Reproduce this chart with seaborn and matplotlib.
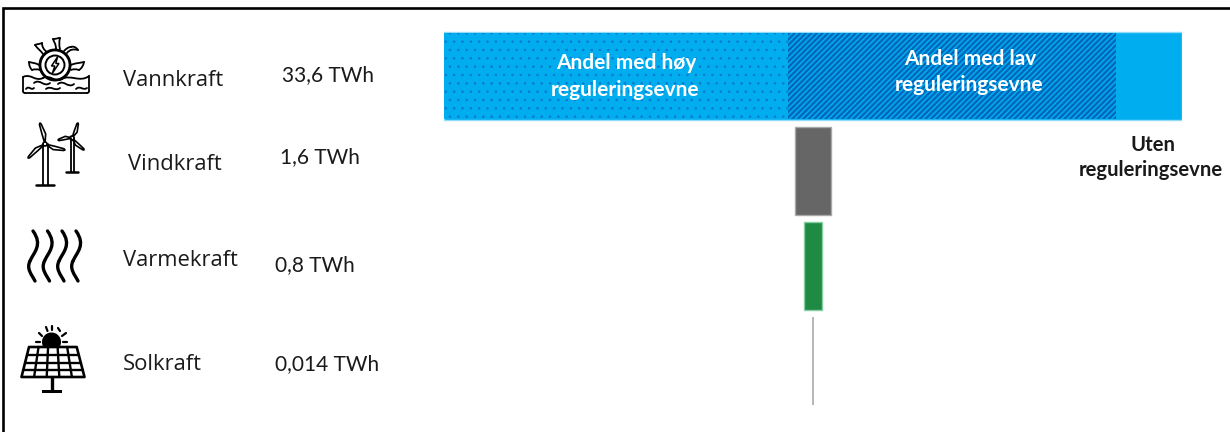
import matplotlib
matplotlib.use("Agg")
import matplotlib.pyplot as plt
import numpy as np
import pandas as pd
import seaborn as sns
from matplotlib.patches import Circle, PathPatch, Polygon, Rectangle, Wedge
from matplotlib.path import Path

# Data (TWh)
kilder = ["Vannkraft", "Vindkraft", "Varmekraft", "Solkraft"]
produksjon = [33.6, 1.6, 0.8, 0.014]
produksjon_tekst = ["33,6 TWh", "1,6 TWh", "0,8 TWh", "0,014 TWh"]
farger = ["#00AEEF", "#666666", "#1E8A44", "#A6A6A6"]
kantfarger = ["#8FDDF8", "#A8A8A8", "#86CFA0", "#B5B5B5"]
kantbredder = [1.0, 1.0, 1.0, 1.4]

# Andeler av vannkraften
hoy_regulering = 15.66
lav_regulering = 14.94

W, H = 1230, 432
sns.set_theme(style="white")
plt.rcParams["font.family"] = ["Lato", "DejaVu Sans"]

fig = plt.figure(figsize=(W / 100, H / 100), dpi=100)

# Stolpene
ax = fig.add_axes([444 / W, 1 - 408.5 / H, 738 / W, 380 / H])
df = pd.DataFrame({"kilde": kilder, "twh": produksjon})

for i, rad in df.iterrows():
    sns.barplot(
        x=[rad["twh"]], y=[rad["kilde"]], order=kilder, orient="y",
        left=(produksjon[0] - rad["twh"]) / 2, width=0.925, color=farger[i],
        saturation=1, errorbar=None, edgecolor=kantfarger[i],
        linewidth=kantbredder[i], ax=ax,
    )

# Skravering for hoy og lav reguleringsevne
plt.rcParams["hatch.linewidth"] = 0.6
sns.barplot(
    x=[hoy_regulering], y=[kilder[0]], order=kilder, orient="y", left=0,
    width=0.9, color=farger[0], saturation=1, errorbar=None,
    edgecolor="#0F78CC", linewidth=0, hatch="..", ax=ax,
)
plt.rcParams["hatch.linewidth"] = 1.7
sns.barplot(
    x=[lav_regulering], y=[kilder[0]], order=kilder, orient="y",
    left=hoy_regulering, width=0.9, color=farger[0], saturation=1,
    errorbar=None, edgecolor="#0067BD", linewidth=0, hatch="//////", ax=ax,
)
ax.set_xlim(0, produksjon[0])
ax.set_ylim(3.5, -0.5)
ax.axis("off")

# Eget lag i pikselkoordinater for tekst, ikoner og ramme
lag = fig.add_axes([0, 0, 1, 1], zorder=5)
lag.set_xlim(0, W)
lag.set_ylim(H, 0)
lag.axis("off")

lag.plot([3, 3, W], [H, 8, 8], color="black", lw=1.9, solid_joinstyle="miter")

navn_pos = [(123, 80), (128, 165), (123, 261), (123, 364)]
tall_pos = [(282, 75), (280, 157), (275, 265), (275, 364)]
for navn, (x, y) in zip(kilder, navn_pos):
    lag.text(x, y, navn, fontsize=15.8, family="Open Sans", color="#1a1a1a",
             va="center", ha="left")
for tekst, (x, y) in zip(produksjon_tekst, tall_pos):
    lag.text(x, y, tekst, fontsize=15, color="#1a1a1a", va="center", ha="left")

for tekst, x, y in [
    ("Andel med høy", 626, 63), ("reguleringsevne", 625, 90),
    ("Andel med lav", 970, 59), ("reguleringsevne", 969, 85),
]:
    lag.text(x, y, tekst, fontsize=15, fontweight="bold", color="white",
             ha="center", va="center")
lag.text(1153, 145, "Uten", fontsize=14.6, fontweight="bold", color="#1a1a1a",
         ha="center", va="center")
lag.text(1151, 170, "reguleringsevne", fontsize=14.6, fontweight="bold",
         color="#1a1a1a", ha="center", va="center")


def kurve(punkter, lw=1.5, fc="none"):
    koder = [Path.MOVETO] + [Path.CURVE4] * (len(punkter) - 1)
    lag.add_patch(PathPatch(Path(punkter, koder), fc=fc, ec="black", lw=lw,
                            capstyle="round"))


def strek(xs, ys, lw=1.3):
    lag.plot(xs, ys, color="black", lw=lw, solid_capstyle="round")


def vinge(nav, spiss, bredde):
    nav, spiss = np.array(nav, float), np.array(spiss, float)
    d = spiss - nav
    n = np.array([-d[1], d[0]]) / np.hypot(*d)
    midt = nav + d * 0.45
    pts = [nav, midt + n * bredde, spiss - d * 0.06 + n * bredde * 0.3, spiss,
           spiss - d * 0.06 - n * bredde * 0.3, midt - n * bredde * 0.2]
    lag.add_patch(Polygon(pts, closed=True, fc="white", ec="black", lw=1.2,
                          joinstyle="round"))


def turbin(nav, spisser, bunn, halv, fot, bredde):
    x, y = nav
    strek([x - halv, x - halv], [y, bunn])
    strek([x + halv, x + halv], [y, bunn])
    strek([x - fot, x + fot], [bunn, bunn], lw=1.8)
    for spiss in spisser:
        vinge(nav, spiss, bredde)
    lag.add_patch(Circle(nav, 2, fc="white", ec="black", lw=1.2))


# Vannhjul
lag.add_patch(Wedge((55, 65), 15.5, 0, 360, width=0.9, fc="none", ec="black", lw=1.4))
lag.add_patch(Circle((55, 65), 9.5, fc="white", ec="black", lw=1.4))
lag.add_patch(Polygon([(57.5, 57), (51.5, 66), (54.8, 66), (52.5, 73),
                       (59, 63.5), (55.8, 63.5)], closed=True, fc="white",
                      ec="black", lw=1.1))
for p in [
    [(56, 49), (56, 44), (54, 42), (53, 39)], [(53, 39), (56, 39), (58, 38), (60, 38)],
    [(60, 38), (59, 42), (59, 45), (60, 49)],
    [(43, 54), (41, 51), (38, 49), (35, 45)], [(35, 45), (37, 44), (40, 44), (42, 43)],
    [(42, 43), (42, 47), (44, 50), (47, 52)],
    [(67, 53), (70, 49), (74, 49), (78, 50)], [(78, 50), (76, 47), (73, 46), (71, 47)],
    [(71, 47), (68, 47), (66, 49), (64, 51)],
    [(39, 65), (36, 63), (33, 63), (29, 62)], [(29, 62), (29, 65), (30, 68), (32, 70)],
    [(32, 70), (35, 69), (37, 69), (40, 70)],
    [(71, 65), (75, 63), (80, 63), (84, 62)], [(84, 62), (83, 66), (82, 68), (79, 70)],
    [(79, 70), (76, 69), (73, 69), (71, 70)],
]:
    kurve(p, lw=1.3)
# Vannflaten med boelger
kurve([(23, 77), (31, 73), (35, 82), (43, 78)], lw=1.3)
kurve([(43, 78), (50, 74), (55, 83), (62, 79)], lw=1.3)
kurve([(62, 79), (70, 74), (80, 83), (89, 76)], lw=1.3)
strek([23, 23], [77, 91])
strek([89, 89], [76, 91])
strek([25, 87], [93, 93])
kurve([(23, 91), (23, 92.5), (24, 93), (25, 93)], lw=1.3)
kurve([(89, 91), (89, 92.5), (88, 93), (87, 93)], lw=1.3)
kurve([(34, 83), (40, 78), (44, 88), (50, 83)], lw=1.3)
kurve([(58, 84), (64, 79), (68, 89), (74, 84)], lw=1.3)
kurve([(26, 89), (29, 85), (31, 91), (34, 88)], lw=1.3)
kurve([(46, 89), (51, 85), (55, 92), (60, 88)], lw=1.3)
kurve([(76, 89), (80, 85), (83, 91), (87, 88)], lw=1.3)

# Vindturbiner
turbin((72, 138), [(78, 123), (58, 140), (84, 150)], 172, 1.5, 6, 2.6)
turbin((45, 144), [(40, 123), (65, 150), (28, 158)], 185, 2.5, 9, 3)

# Varme
for x in [33, 47.5, 62, 76]:
    kurve([(x, 231), (x + 10, 245), (x + 1, 252), (x - 3, 261)], lw=2.4)
    kurve([(x - 3, 261), (x - 7, 269), (x - 1, 275), (x + 2, 281)], lw=2.4)

# Solcellepanel
lag.add_patch(Wedge((51.5, 342), 9.5, 0, 360, fc="black", ec="none"))
lag.add_patch(Polygon([(29, 347), (76.7, 347), (84.5, 377), (21.5, 377)], closed=True,
                      fc="white", ec="black", lw=1.9, joinstyle="round"))
for t in [0.27, 0.53, 0.77]:
    strek([29 - 7.5 * t, 76.7 + 7.8 * t], [347 + 30 * t] * 2, lw=1.7)
for t in [0.2, 0.4, 0.6, 0.8]:
    strek([29 + 47.7 * t, 21.5 + 63 * t], [347, 377], lw=1.7)
strek([52, 52], [377, 391], lw=2.4)
lag.add_patch(Rectangle((42, 389.5), 20, 3.5, fc="black", ec="none"))
for x0, y0, x1, y1 in [(36, 342, 40, 342), (39, 333, 42, 336), (46, 327, 47.5, 331),
                       (52, 326, 52, 330), (60, 331, 58, 328), (66, 333, 62, 336),
                       (63, 342, 67, 342)]:
    strek([x0, x1], [y0, y1], lw=1.6)

fig.savefig("out.png", dpi=100, facecolor="white")
